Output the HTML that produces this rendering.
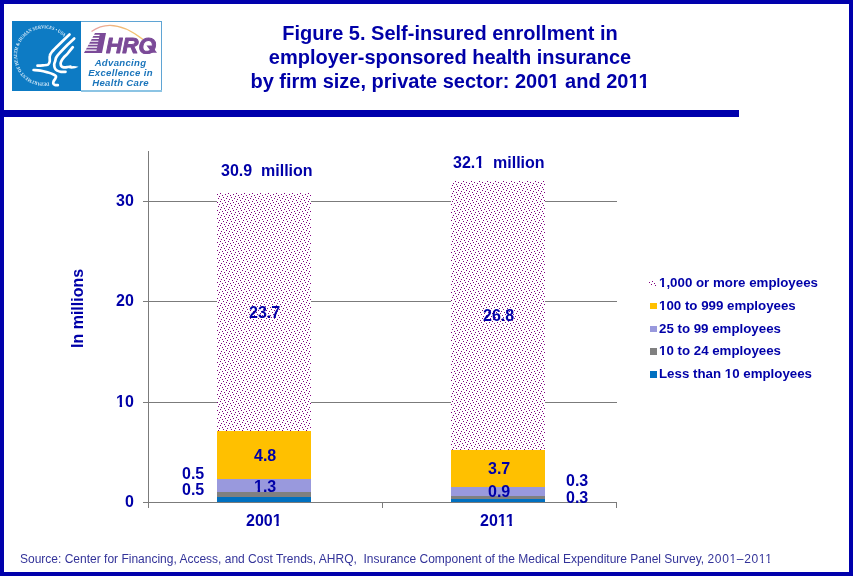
<!DOCTYPE html>
<html><head><meta charset="utf-8">
<style>
html,body{margin:0;padding:0;background:#fff;}
body{width:853px;height:576px;position:relative;overflow:hidden;font-family:"Liberation Sans",sans-serif;}
.frame{position:absolute;left:0;top:0;width:845px;height:568px;border:4px solid #0000AC;}
.hline{position:absolute;left:0;top:110px;width:739px;height:7px;background:#0000AC;}
.t{position:absolute;white-space:pre;color:#0000A8;font-weight:bold;line-height:1;}
.title{position:absolute;left:200px;width:500px;top:21px;text-align:center;color:#0000A8;font-weight:bold;font-size:20px;line-height:24px;}
.src{position:absolute;left:20px;top:552.6px;font-size:12px;color:#333399;white-space:pre;line-height:1;}
svg{position:absolute;left:0;top:0;}
.o{clip-path:polygon(0 0,100% 0,100% 0.655em,0.38em 0.655em,0.38em 100%,0.224em 100%,0.224em 0.655em,0 0.655em);}
.src .o{clip-path:polygon(0 0,100% 0,100% 0.705em,0.36em 0.705em,0.36em 100%,0.232em 100%,0.232em 0.705em,0 0.705em);}
.sw{position:absolute;top:0;white-space:pre;}
</style></head>
<body>
<div id="wrap" style="position:absolute;left:0;top:0;width:853px;height:576px;will-change:transform;">
<div class="frame"></div>
<div class="hline"></div>

<!-- logo -->
<svg width="853" height="576" viewBox="0 0 853 576" style="position:absolute;left:0;top:0;">
  <rect x="12" y="21" width="69" height="70" fill="#0D7BC4" shape-rendering="crispEdges"/>
  <rect x="81" y="21" width="81" height="1" fill="#5FA4D4" shape-rendering="crispEdges"/>
  <rect x="161" y="21" width="1" height="70" fill="#5FA4D4" shape-rendering="crispEdges"/>
  <rect x="81" y="90" width="81" height="1.5" fill="#8CC4E4" shape-rendering="crispEdges"/>
  <defs><path id="ring" d="M 48.9 82.4 A 27.2 27.2 0 1 1 64.1 37.05"/></defs>
  <text font-family="Liberation Serif" font-size="4.8" font-weight="bold" fill="#DDEEFA"><textPath href="#ring" textLength="112" lengthAdjust="spacingAndGlyphs">DEPARTMENT OF HEALTH &amp; HUMAN SERVICES &#8226; USA</textPath></text>
  <g fill="none" stroke="#fff" stroke-width="2.7" stroke-linecap="round" stroke-linejoin="round">
    <path d="M69.5 34.5 C67.7 36.2 61.6 42.1 58.6 45.0 C55.6 47.9 53.3 50.2 51.8 52.0 C50.3 53.8 50.1 54.4 49.8 56.0 C49.4 57.6 50.0 60.1 49.7 61.5 C49.4 62.9 49.1 63.9 48.0 64.6 C46.9 65.2 44.8 65.2 43.0 65.4 C41.2 65.6 38.4 65.7 37.5 65.7"/>
    <path d="M74.2 38.5 C73.0 39.6 69.8 42.5 67.3 45.0 C64.8 47.5 61.0 51.6 59.1 53.7 C57.2 55.8 56.8 56.4 56.2 57.5 C55.6 58.6 55.6 59.4 55.3 60.6 C55.0 61.8 54.2 63.2 54.2 64.5 C54.2 65.8 54.5 67.5 55.0 68.5 C55.5 69.5 56.2 70.0 57.2 70.6 C58.2 71.1 59.6 71.6 61.0 71.8 C62.4 72.0 64.8 71.8 65.5 71.8"/>
    <path d="M72.8 47.2 C72.0 48.2 69.2 51.7 67.7 53.5 C66.2 55.3 64.5 56.6 63.5 57.8 C62.5 59.0 62.1 59.6 61.6 60.6 C61.1 61.6 60.6 62.5 60.6 63.5 C60.6 64.5 60.9 65.6 61.5 66.3 C62.1 67.0 63.1 67.2 64.0 67.4 C64.9 67.6 65.9 67.3 67.0 67.2 C68.1 67.1 69.9 66.7 70.5 66.6"/>
    <path d="M33.6 70.0 C34.7 70.1 38.0 70.2 40.4 70.6 C42.8 71.0 46.0 71.9 48.2 72.5 C50.4 73.1 52.2 73.8 53.5 74.4 C54.8 75.0 55.7 75.5 56.0 76.2 C56.3 76.9 55.6 78.0 55.2 78.8 C54.8 79.6 53.9 80.5 53.6 81.3 C53.3 82.1 53.1 83.0 53.3 83.6 C53.5 84.2 54.2 84.7 55.0 85.0 C55.8 85.3 57.3 85.2 57.8 85.2"/>
  </g>
  <path d="M69 67 C72 65.5 75 65.8 78.5 66.8 C76 68.3 73 69 69.5 68.6 Z" fill="#fff"/>
  <defs><linearGradient id="arcg" x1="0" x2="1" y1="0" y2="0"><stop offset="0" stop-color="#E8A0A8"/><stop offset="0.5" stop-color="#F0B878"/><stop offset="1" stop-color="#F4C870"/></linearGradient></defs>
  <path d="M91.5 31.5 Q113 16 143 39.5" fill="none" stroke="url(#arcg)" stroke-width="1.4"/>
  <g fill="#7B4A98">
    <polygon points="100,33 106,33 102,53 96,53"/>
    <polygon points="95.00,33.00 100.50,33.00 100.50,34.80 94.01,34.80"/>
    <polygon points="93.38,35.95 99.91,35.95 99.91,37.75 92.39,37.75"/>
    <polygon points="91.75,38.90 99.32,38.90 99.32,40.70 90.77,40.70"/>
    <polygon points="90.13,41.85 98.73,41.85 98.73,43.65 89.14,43.65"/>
    <polygon points="88.51,44.80 98.14,44.80 98.14,46.60 87.52,46.60"/>
    <polygon points="86.89,47.75 97.55,47.75 97.55,49.55 85.90,49.55"/>
    <polygon points="85.27,50.70 96.96,50.70 96.96,53.10 83.94,53.10"/>
  </g>
  <clipPath id="qc"><rect x="80" y="21" width="81" height="33"/></clipPath>
  <text clip-path="url(#qc)" x="106" y="53" font-family="Liberation Sans" font-weight="bold" font-style="italic" font-size="21.5" fill="#7B4A98" stroke="#7B4A98" stroke-width="0.9" stroke-linejoin="round" textLength="50" lengthAdjust="spacingAndGlyphs">HRQ</text>
  <path d="M146.5 45.5 L151.5 45.5 L157 52.8 L152 52.8 Z" fill="#7B4A98"/>
  <g font-family="Liberation Sans" font-weight="bold" font-style="italic" font-size="9.6" fill="#1B75BB" text-anchor="middle">
    <text x="120.5" y="65.6" letter-spacing="0.3">Advancing</text>
    <text x="120.5" y="75.7" letter-spacing="0.3">Excellence in</text>
    <text x="120.5" y="85.5" letter-spacing="0.3">Health Care</text>
  </g>
</svg>

<div class="title">Figure 5. Self-insured enrollment in<br>employer-sponsored health insurance<br>by firm size, private sector: 200<span class="o">1</span> and 20<span class="o">1</span><span class="o">1</span></div>

<svg width="853" height="576" viewBox="0 0 853 576" shape-rendering="crispEdges">
  <defs>
    <pattern id="dots" patternUnits="userSpaceOnUse" x="1" y="1" width="8" height="8">
      <rect x="3" y="0" width="1" height="1" fill="#800080"/>
      <rect x="0" y="1" width="1" height="1" fill="#800080"/>
      <rect x="5" y="2" width="1" height="1" fill="#800080"/>
      <rect x="2" y="3" width="1" height="1" fill="#800080"/>
      <rect x="6" y="4" width="1" height="1" fill="#800080"/>
      <rect x="1" y="5" width="1" height="1" fill="#800080"/>
      <rect x="4" y="6" width="1" height="1" fill="#800080"/>
      <rect x="7" y="7" width="1" height="1" fill="#800080"/>
    </pattern>
  </defs>
  <!-- gridlines -->
  <g fill="#7B7B7B">
    <rect x="143" y="201" width="474" height="1"/>
    <rect x="143" y="301" width="474" height="1"/>
    <rect x="143" y="402" width="474" height="1"/>
    <rect x="143" y="502" width="474" height="1"/>
    <rect x="148" y="151" width="1" height="357"/>
    <rect x="382" y="502" width="1" height="6"/>
    <rect x="616" y="502" width="1" height="6"/>
  </g>
  <!-- bar 1 -->
  <rect x="217" y="193" width="94" height="238" fill="#fff"/>
  <rect x="217" y="193" width="94" height="238" fill="url(#dots)"/>
  <rect x="217" y="431" width="94" height="48" fill="#FFC000"/>
  <rect x="217" y="479" width="94" height="13" fill="#9999DD"/>
  <rect x="217" y="492" width="94" height="5" fill="#808080"/>
  <rect x="217" y="497" width="94" height="5" fill="#0070C0"/>
  <!-- bar 2 -->
  <rect x="451" y="181" width="94" height="269" fill="#fff"/>
  <rect x="451" y="181" width="94" height="269" fill="url(#dots)"/>
  <rect x="451" y="450" width="94" height="37" fill="#FFC000"/>
  <rect x="451" y="487" width="94" height="9" fill="#9999DD"/>
  <rect x="451" y="496" width="94" height="3" fill="#808080"/>
  <rect x="451" y="499" width="94" height="3" fill="#0070C0"/>
  <!-- legend markers -->
  <rect x="649" y="280" width="7" height="6" fill="url(#dots)"/>
  <rect x="650" y="303" width="7" height="6" fill="#FFC000"/>
  <rect x="650" y="326" width="7" height="6" fill="#9999DD"/>
  <rect x="650" y="348" width="7" height="7" fill="#808080"/>
  <rect x="650" y="371" width="7" height="7" fill="#0070C0"/>
</svg>

<!-- axis labels -->
<div class="t" style="font-size:16px;left:116px;top:193px;">30</div>
<div class="t" style="font-size:16px;left:116px;top:293px;">20</div>
<div class="t" style="font-size:16px;left:116px;top:394px;"><span class="o">1</span>0</div>
<div class="t" style="font-size:16px;left:125px;top:494px;">0</div>
<div class="t" style="font-size:16px;left:70px;top:347.8px;transform-origin:0 0;transform:rotate(-90deg);">In millions</div>

<div class="t" style="font-size:16px;left:221px;top:163px;">30.9  million</div>
<div class="t" style="font-size:16px;left:453px;top:155px;">32.<span class="o">1</span>  million</div>
<div class="t" style="font-size:16px;left:249px;top:305px;">23.7</div>
<div class="t" style="font-size:16px;left:483px;top:308px;">26.8</div>
<div class="t" style="font-size:16px;left:254px;top:448px;">4.8</div>
<div class="t" style="font-size:16px;left:254px;top:479px;"><span class="o">1</span>.3</div>
<div class="t" style="font-size:16px;left:182px;top:466px;">0.5</div>
<div class="t" style="font-size:16px;left:182px;top:482px;">0.5</div>
<div class="t" style="font-size:16px;left:488px;top:461px;">3.7</div>
<div class="t" style="font-size:16px;left:488px;top:484px;">0.9</div>
<div class="t" style="font-size:16px;left:566px;top:473px;">0.3</div>
<div class="t" style="font-size:16px;left:566px;top:490px;">0.3</div>
<div class="t" style="font-size:16px;left:246px;top:513px;">200<span class="o">1</span></div>
<div class="t" style="font-size:16px;left:480px;top:513px;">20<span class="o">1</span><span class="o">1</span></div>

<!-- legend -->
<div class="t" style="font-size:13.3px;left:659px;top:276px;"><span class="o">1</span>,000 or more employees</div>
<div class="t" style="font-size:13.3px;left:659px;top:299px;"><span class="o">1</span>00 to 999 employees</div>
<div class="t" style="font-size:13.3px;left:659px;top:321.6px;">25 to 99 employees</div>
<div class="t" style="font-size:13.3px;left:659px;top:344.2px;"><span class="o">1</span>0 to 24 employees</div>
<div class="t" style="font-size:13.3px;left:659px;top:367.2px;">Less than <span class="o">1</span>0 employees</div>

<div class="src">Source: Center for Financing, Access, and Cost Trends, AHRQ,&nbsp; Insurance Component of the Medical Expenditure Panel Survey, <span style="letter-spacing:0.66px">200<span class="o">1</span>–20<span class="o">1</span><span class="o">1</span></span></div>
</div>
</body></html>
